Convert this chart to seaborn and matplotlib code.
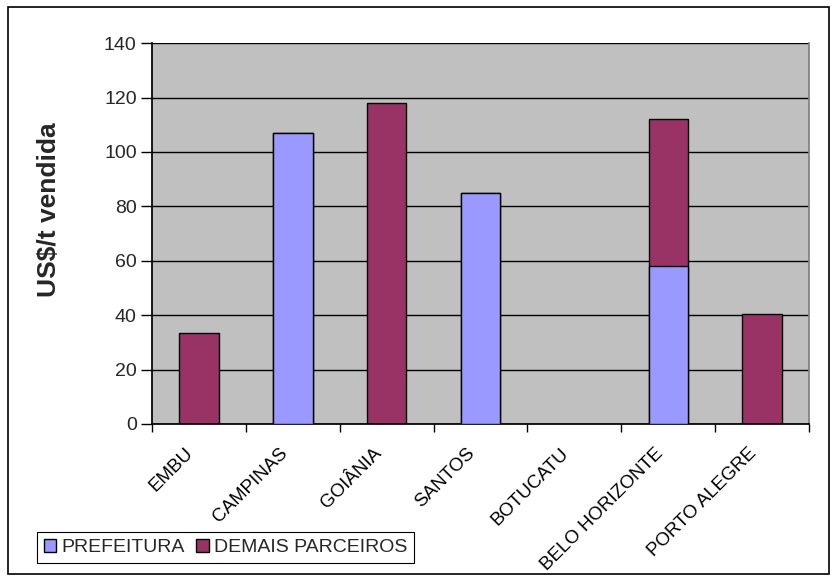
import matplotlib
matplotlib.use("Agg")
import matplotlib.pyplot as plt
import matplotlib.transforms as mtrans
import seaborn as sns
import pandas as pd
import numpy as np
from matplotlib.patches import Rectangle, Patch

categories = ["EMBU", "CAMPINAS", "GOIÂNIA", "SANTOS", "BOTUCATU", "BELO HORIZONTE", "PORTO ALEGRE"]
prefeitura = [0, 107, 0, 85, 0, 58, 0]
demais = [33.5, 0, 118, 0, 0, 54, 40.5]
series_names = ["PREFEITURA", "DEMAIS PARCEIROS"]
yticks = [0, 20, 40, 60, 80, 100, 120, 140]

c_pref = "#9999FF"
c_dem = "#993366"

sns.set_theme(style="white")
plt.rcParams["font.family"] = ["Liberation Sans", "DejaVu Sans"]

total = [p + d for p, d in zip(prefeitura, demais)]
df = pd.DataFrame({"cat": categories, "pref": prefeitura, "total": total})

fig = plt.figure(figsize=(8.35, 5.76), dpi=100)
ax = fig.add_axes([0.182, 0.264, 0.787, 0.661])
ax.set_facecolor("#C0C0C0")
ax.set_axisbelow(True)

sns.barplot(data=df, x="cat", y="total", color=c_dem, width=0.42,
            edgecolor="black", linewidth=1.0, saturation=1, ax=ax, zorder=2)
sns.barplot(data=df, x="cat", y="pref", color=c_pref, width=0.42,
            edgecolor="black", linewidth=1.0, saturation=1, ax=ax, zorder=3)
for p in ax.patches:
    if p.get_height() == 0:
        p.set_visible(False)

ax.set_xlim(-0.5, len(categories) - 0.5)
ax.set_ylim(0, 140)
ax.set_yticks(yticks)
ax.yaxis.grid(True, color="black", linewidth=1.0)
ax.xaxis.grid(False)
ax.tick_params(axis="y", which="major", direction="out", length=8, width=1, color="black",
               labelsize=14, pad=3, left=True)
ax.set_xticks(np.arange(len(categories)))
ax.set_xticklabels([""] * len(categories))
offset = mtrans.ScaledTranslation(-14 / 100, -21 / 100, fig.dpi_scale_trans)
lbl_tr = ax.get_xaxis_transform() + offset
for i, name in enumerate(categories):
    ax.text(i, 0, name, transform=lbl_tr, rotation=45, ha="right", va="top",
            rotation_mode="anchor", fontsize=13.5, color="black")
ax.set_xticks(np.arange(-0.5, len(categories)), minor=True)
ax.tick_params(axis="x", which="major", length=0)
ax.tick_params(axis="x", which="minor", direction="out", length=6, width=1, color="black", bottom=True)
ax.set_xlabel("")
ax.set_ylabel("US$/t vendida", fontsize=19, fontweight="bold")
ax.yaxis.set_label_coords(-0.1385, 0.564)

ax.spines["right"].set_color("#808080")
ax.spines["top"].set_visible(False)
ax.spines["left"].set_color("black")
ax.spines["bottom"].set_color("black")

handles = [Patch(facecolor=c_pref, edgecolor="black", linewidth=1.0),
           Patch(facecolor=c_dem, edgecolor="black", linewidth=1.0)]
leg = fig.legend(handles, series_names, loc="lower left", bbox_to_anchor=(0.0443, 0.0226),
                 ncol=2, frameon=True, fancybox=False, fontsize=14, handlelength=0.65,
                 handleheight=0.65, handletextpad=0.25, columnspacing=0.6, borderpad=0.35,
                 borderaxespad=0, edgecolor="black", framealpha=1)
leg.get_frame().set_linewidth(0.8)

fig.patches.append(Rectangle((0.0096, 0.003), 0.983, 0.985, transform=fig.transFigure,
                             fill=False, edgecolor="black", linewidth=1.2))

fig.savefig("out.png", dpi=100, facecolor="white")
